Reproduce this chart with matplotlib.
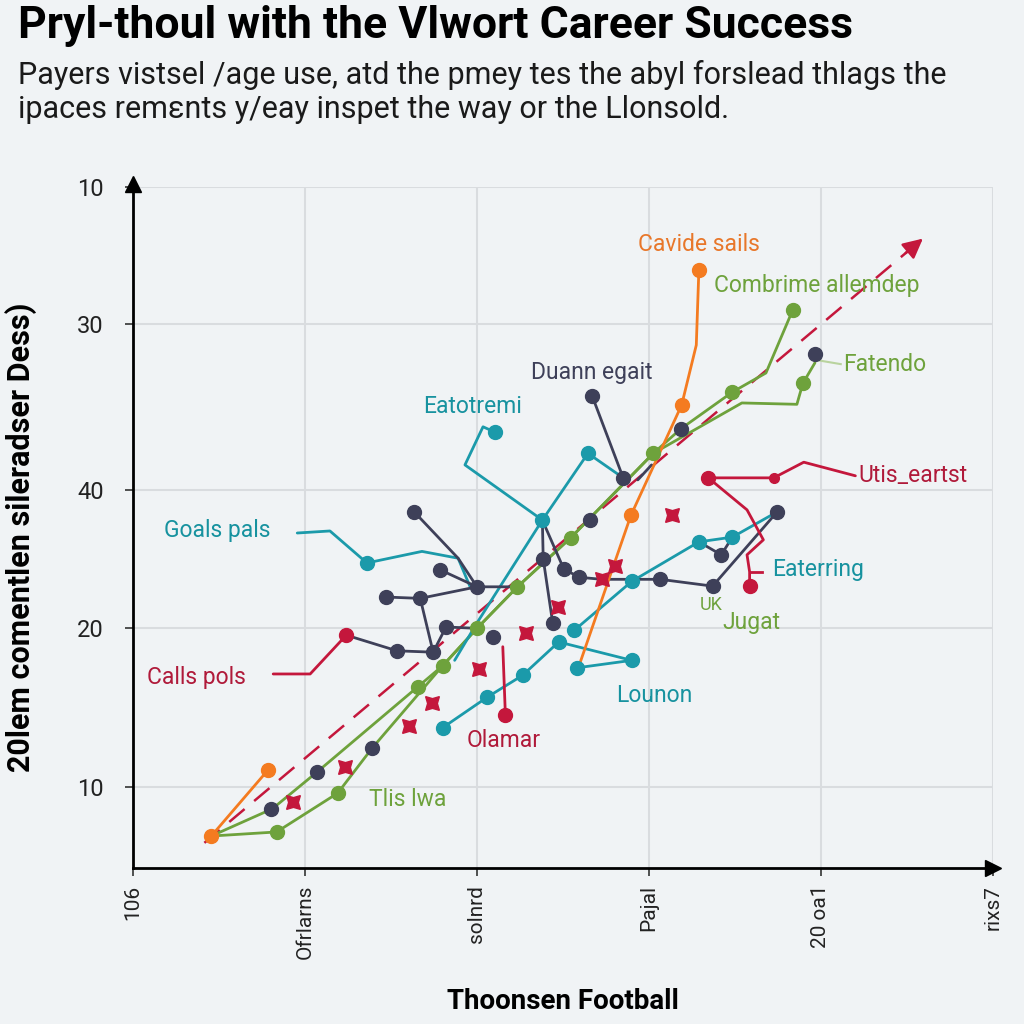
import numpy as np
import matplotlib.pyplot as plt

# colours
ORANGE = '#f47b20'
GREEN = '#6ea23c'
NAVY = '#3e4059'
TEAL = '#1b9aaa'
CRIMSON = '#c4173c'
BG = '#f0f3f5'

# axis ticks (labels as printed on the chart)
xtick_pos = [0, 20, 40, 60, 80, 100]
xtick_lab = ['106', 'Ofrlarns', 'solnrd', 'Pajal', '20 oa1', 'rixs7']
ytick_pos = [100, 79.9, 55.5, 35.2, 11.9]
ytick_lab = ['10', '30', '40', '20', '10']

# orange series
or_a_x = [9.1, 15.7]
or_a_y = [4.7, 14.4]
or_b_x = [52.0, 57.9, 63.8, 65.5, 65.8]
or_b_y = [30.2, 51.8, 68.0, 76.8, 87.8]
or_b_mk = [1, 2, 4]

# green series
gr_a_x = [9.1, 16.7, 23.8, 27.8, 36.0, 40.0, 44.7, 50.9, 60.5, 63.7, 69.7, 73.6, 76.7]
gr_a_y = [4.7, 5.3, 11.0, 17.6, 29.7, 35.2, 41.3, 48.5, 60.9, 64.5, 69.9, 72.7, 81.9]
gr_a_mk = [1, 2, 4, 5, 6, 7, 8, 10, 12]
gr_b_x = [9.1, 16.2, 21.4, 33.1, 36.0, 40.0, 44.7, 50.9, 60.5, 70.8, 77.2, 77.9, 79.3]
gr_b_y = [4.7, 8.7, 14.1, 26.6, 29.7, 35.2, 41.3, 48.5, 60.9, 68.3, 68.1, 71.2, 74.2]
gr_b_mk = [3, 11]

# navy series (polylines + marker flags)
navy_lines = [
    ([53.4, 57.0], [69.3, 57.3], [0, 1]),
    ([58.7, 60.3], [57.0, 59.2], []),
    ([32.7, 37.8, 40.0, 44.7], [52.3, 45.5, 41.3, 41.3], [0, 2]),
    ([35.7, 40.0], [43.8, 41.3], [0]),
    ([29.4, 33.4, 40.0], [39.8, 39.6, 41.3], [0, 1]),
    ([33.4, 34.9, 30.7, 24.8], [39.6, 31.7, 31.9, 34.2], [1, 2]),
    ([34.9, 36.4, 40.0], [31.7, 35.4, 35.2], [1]),
    ([47.6, 47.7, 48.8], [51.1, 45.4, 36.0], [1, 2]),
    ([47.6, 50.1, 51.9, 54.5, 61.3, 67.4, 74.9], [51.1, 43.9, 42.7, 42.4, 42.4, 41.4, 52.3], [1, 2, 4, 5, 6]),
    ([65.8, 68.4, 69.7], [47.9, 46.0, 48.6], [1]),
]
navy_pts_x = [16.0, 21.4, 27.8, 63.7, 53.1, 79.3, 41.9]
navy_pts_y = [8.7, 14.1, 17.6, 64.5, 51.1, 75.5, 33.9]

# teal series
teal_lines = [
    ([19.1, 22.9, 27.2, 33.6, 37.8, 39.2], [49.2, 49.5, 44.8, 46.5, 45.5, 41.3], [2]),
    ([37.4, 40.0, 47.6, 52.9, 57.0], [30.5, 36.0, 51.1, 60.9, 57.3], [2, 3]),
    ([42.1, 40.7, 38.6, 47.6], [64.0, 64.8, 59.2, 51.1], [0]),
    ([36.0, 41.2, 45.3, 49.5, 58.0, 51.6], [20.6, 25.1, 28.3, 33.2, 30.5, 29.4], [0, 1, 2, 3, 4, 5]),
    ([51.3, 58.0, 65.8, 69.7, 74.9], [34.9, 42.1, 47.9, 48.6, 52.3], [0, 1, 2, 3]),
]

# crimson series
crim_lines = [
    ([16.3, 20.6, 24.8], [28.5, 28.5, 34.2], [2]),
    ([43.0, 43.3], [32.5, 22.5], [1]),
    ([84.0, 78.0, 74.5, 66.9], [57.6, 59.6, 57.3, 57.3], [3]),
    ([66.9, 71.4, 73.3, 71.4, 71.7, 71.7], [57.3, 52.6, 48.2, 46.0, 43.5, 41.4], [5]),
]
small_crim_x = [74.5]
small_crim_y = [57.3]

# dashed trend with star markers
trend_x = [8.3, 92.1]
trend_y = [3.7, 92.7]
star_x = [18.6, 24.7, 32.1, 34.8, 40.2, 45.7, 49.4, 54.5, 56.0, 62.7]
star_y = [9.7, 14.8, 20.9, 24.2, 29.2, 34.5, 38.3, 42.4, 44.3, 51.8]

# annotations: text, x, y, colour, ha
labels = [
    ('Cavide sails', 65.8, 91.6, '#e8772a', 'center'),
    ('Combrime allemdep', 67.6, 85.5, GREEN, 'left'),
    ('Duann egait', 53.3, 72.7, NAVY, 'center'),
    ('Eatotremi', 39.5, 67.8, '#17929f', 'center'),
    ('Fatendo', 82.6, 73.9, GREEN, 'left'),
    ('Utis_eartst', 84.3, 57.7, '#b01a3a', 'left'),
    ('Goals pals', 3.6, 49.5, '#17929f', 'left'),
    ('Eaterring', 74.3, 43.8, '#17929f', 'left'),
    ('Jugat', 68.5, 36.1, GREEN, 'left'),
    ('Calls pols', 1.6, 28.0, '#b01a3a', 'left'),
    ('Lounon', 56.2, 25.3, '#17929f', 'left'),
    ('Olamar', 38.8, 18.8, '#b01a3a', 'left'),
    ('Tlis lwa', 27.4, 10.1, GREEN, 'left'),
]

plt.rcParams['font.family'] = ['Roboto', 'DejaVu Sans']
fig = plt.figure(figsize=(10.24, 10.24), dpi=100, facecolor=BG)
ax = fig.add_axes([0.1299, 0.1523, 0.8398, 0.6650], facecolor=BG)

LW = 2.0
MS = 10


def draw(xs, ys, mk, col):
    ax.plot(xs, ys, color=col, lw=LW, zorder=3, solid_capstyle='round')
    if mk:
        ax.plot([xs[i] for i in mk], [ys[i] for i in mk], 'o', color=col, ms=MS, zorder=4)


# trend first (under)
ax.plot(trend_x, trend_y, color=CRIMSON, lw=1.8, ls=(0, (8, 5)), zorder=2)
ax.annotate('', xy=(trend_x[1], trend_y[1]), xytext=(trend_x[1] - 2.5, trend_y[1] - 2.65),
            arrowprops=dict(arrowstyle='-|>,head_length=1.2,head_width=0.6', color=CRIMSON, lw=1.8))
ax.plot(star_x, star_y, marker=(4, 1, 45), ls='none', color=CRIMSON, ms=14, zorder=4)

draw(gr_a_x, gr_a_y, gr_a_mk, GREEN)
draw(gr_b_x, gr_b_y, gr_b_mk, GREEN)
for xs, ys, mk in teal_lines:
    draw(xs, ys, mk, TEAL)
for xs, ys, mk in navy_lines:
    draw(xs, ys, mk, NAVY)
ax.plot(navy_pts_x, navy_pts_y, 'o', color=NAVY, ms=MS, zorder=5)
draw(or_a_x, or_a_y, [0, 1], ORANGE)
draw(or_b_x, or_b_y, or_b_mk, ORANGE)
for xs, ys, mk in crim_lines:
    draw(xs, ys, mk, CRIMSON)
ax.plot(small_crim_x, small_crim_y, 'o', color=CRIMSON, ms=7, zorder=5)
ax.plot([71.7, 73.1], [43.5, 43.5], color=CRIMSON, lw=LW, zorder=3)

for txt, x, y, c, ha in labels:
    ax.text(x, y, txt, color=c, ha=ha, va='center', fontsize=16.5, zorder=6)
ax.text(65.9, 38.6, 'UK', color=GREEN, fontsize=13, va='center', zorder=6)
ax.plot([79.5, 82.3], [74.6, 74.0], color='#b9d39e', lw=1.5, zorder=3)

ax.set_xlim(0, 100)
ax.set_ylim(0, 100)
ax.set_xticks(xtick_pos)
ax.set_xticklabels(xtick_lab, rotation=90, fontsize=15, color='#222222', va='top')
ax.set_yticks(ytick_pos)
ax.set_yticklabels(ytick_lab, fontsize=17, color='#222222')
ax.tick_params(axis='both', length=6, width=1.2, color='#333333')
ax.tick_params(axis='y', pad=15)
ax.tick_params(axis='x', pad=6)
ax.grid(True, color='#d9dcdf', lw=1.5, zorder=0)
ax.set_axisbelow(True)
for s in ['top', 'right']:
    ax.spines[s].set_visible(False)
for s in ['left', 'bottom']:
    ax.spines[s].set_linewidth(2)
    ax.spines[s].set_color('black')
ax.plot(0, 1.005, '^k', ms=11, transform=ax.transAxes, clip_on=False)
ax.plot(1.0, 0, '>k', ms=11, transform=ax.transAxes, clip_on=False)

ax.set_ylabel('20lem comentlen sileradser Dess)', fontsize=22, fontweight='bold')
ax.yaxis.set_label_coords(-0.112, 0.486)
ax.set_xlabel('Thoonsen Football', fontsize=20, fontweight='bold')
ax.xaxis.set_label_coords(0.5, -0.176)

fig.text(0.018, 0.975, 'Pryl-thoul with the Vlwort Career Success', fontsize=32, fontweight='bold',
         va='center', ha='left')
fig.text(0.018, 0.927, 'Payers vistsel /age use, atd the pmey tes the abyl forslead thlags the',
         fontsize=22, va='center', ha='left', color='#1a1a1a')
fig.text(0.018, 0.893, 'ipaces remεnts y/eay inspet the way or the Llonsold.',
         fontsize=22, va='center', ha='left', color='#1a1a1a')

fig.savefig('out.png', dpi=100, facecolor=BG)
